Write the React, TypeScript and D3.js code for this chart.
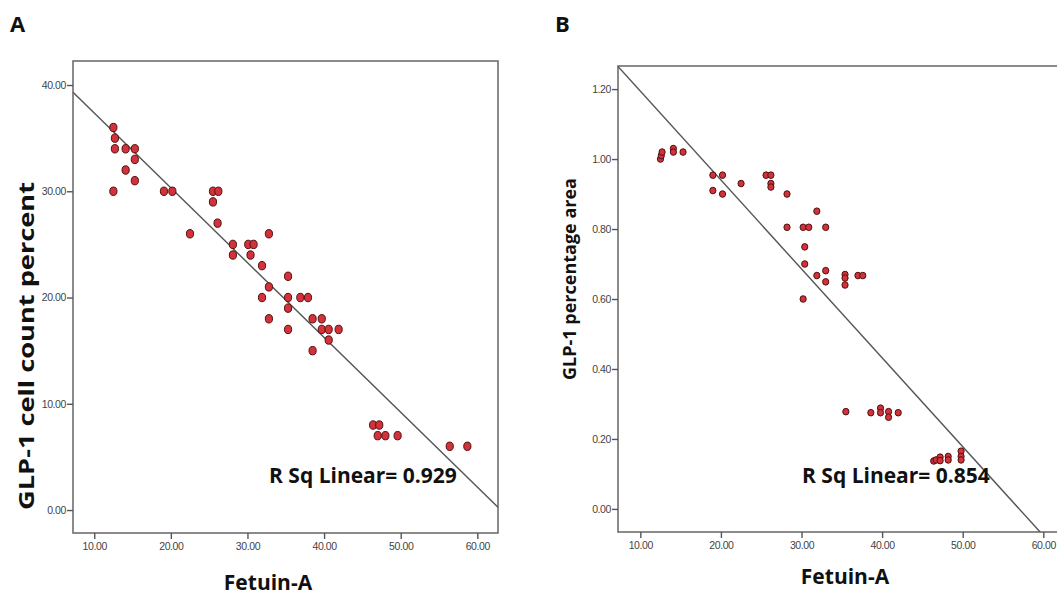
import React, { useEffect, useRef } from 'react';
import * as d3 from 'd3';

// Panel A: Fetuin-A vs GLP-1 cell count percent
const fetuinA = [12.5, 12.7, 12.7, 12.5, 14.1, 14.1, 15.3, 15.3, 15.3, 19.1, 20.2, 22.5, 25.5, 26.2, 25.5, 26.1, 28.1, 28.1, 30.1, 30.8, 30.4, 31.9, 32.8, 32.8, 31.9, 32.8, 35.3, 35.3, 35.3, 36.9, 37.9, 35.3, 38.5, 39.7, 39.7, 40.6, 41.9, 40.6, 38.5, 46.4, 47.2, 47.0, 48.0, 49.6, 56.4, 58.7];
const cellCount = [36, 35, 34, 30, 34, 32, 34, 33, 31, 30, 30, 26, 30, 30, 29, 27, 25, 24, 25, 25, 24, 23, 26, 21, 20, 18, 22, 20, 19, 20, 20, 17, 18, 18, 17, 17, 17, 16, 15, 8, 8, 7, 7, 7, 6, 6];

// Panel B: Fetuin-A vs GLP-1 percentage area
const fetuinB = [12.5, 12.6, 12.7, 14.1, 14.1, 15.3, 19.0, 20.2, 19.0, 20.2, 22.5, 25.6, 26.2, 26.2, 26.2, 28.2, 28.2, 31.9, 30.2, 30.9, 33.0, 30.4, 30.4, 31.9, 33.0, 33.0, 35.4, 35.4, 35.4, 37.0, 37.6, 30.2, 35.5, 38.6, 39.8, 39.8, 40.8, 40.8, 42.0, 46.4, 46.7, 47.2, 47.2, 48.2, 48.2, 49.8, 49.8, 49.8];
const pctArea = [1.0, 1.01, 1.02, 1.03, 1.02, 1.02, 0.954, 0.954, 0.91, 0.9, 0.93, 0.954, 0.954, 0.93, 0.92, 0.9, 0.805, 0.851, 0.805, 0.805, 0.805, 0.749, 0.7, 0.667, 0.681, 0.649, 0.67, 0.66, 0.64, 0.667, 0.667, 0.6, 0.278, 0.275, 0.288, 0.275, 0.278, 0.262, 0.275, 0.137, 0.14, 0.148, 0.138, 0.15, 0.14, 0.165, 0.15, 0.14];

// fit lines as printed (intercept, slope)
const fitA = [44.4, -0.704];
const fitB = [1.448, -0.0254];

const xTicks = [10, 20, 30, 40, 50, 60];
const yTicksA = [0, 10, 20, 30, 40];
const yTicksB = [0, 0.2, 0.4, 0.6, 0.8, 1.0, 1.2];

const labelFont = '"Open Sans", "DejaVu Sans", sans-serif';
const tickFont = '"Liberation Sans Narrow", "Arial Narrow", "Liberation Sans", sans-serif';

const App = () => {
  const ref = useRef(null);

  useEffect(() => {
    const svg = d3.select(ref.current);
    svg.selectAll('*').remove();

    const drawPanel = (opts) => {
      const { id, x, y, xs, ys, fit, yTicks, rx, ry } = opts;
      const g = svg.append('g');
      const [x0, x1] = x.range();
      const [y0, y1] = y.range();

      g.append('clipPath').attr('id', id)
        .append('rect')
        .attr('x', x0).attr('y', y1)
        .attr('width', x1 - x0).attr('height', y0 - y1);

      // frame
      g.append('rect')
        .attr('x', x0).attr('y', y1)
        .attr('width', x1 - x0).attr('height', y0 - y1)
        .attr('fill', 'white')
        .attr('stroke', '#6e6e6e')
        .attr('stroke-width', 1.6);

      // axes
      const ax = g.append('g')
        .attr('transform', `translate(0,${y0})`)
        .call(d3.axisBottom(x).tickValues(xTicks).tickSize(6).tickPadding(4).tickFormat(d3.format('.2f')));
      const ay = g.append('g')
        .attr('transform', `translate(${x0},0)`)
        .call(d3.axisLeft(y).tickValues(yTicks).tickSize(6).tickPadding(1).tickFormat(d3.format('.2f')));
      [ax, ay].forEach(a => {
        a.select('.domain').remove();
        a.selectAll('line').attr('stroke', '#555').attr('stroke-width', 1.4);
        a.selectAll('text')
          .style('font-family', tickFont)
          .style('font-size', '10.5px')
          .style('letter-spacing', '-0.4px')
          .attr('fill', '#444');
      });

      // fit line
      const xd = x.domain();
      g.append('line')
        .attr('clip-path', `url(#${id})`)
        .attr('x1', x(xd[0])).attr('y1', y(fit[0] + fit[1] * xd[0]))
        .attr('x2', x(xd[1])).attr('y2', y(fit[0] + fit[1] * xd[1]))
        .attr('stroke', '#555')
        .attr('stroke-width', 1.4);

      // points
      g.selectAll('.pt')
        .data(xs.map((v, i) => [v, ys[i]]))
        .enter()
        .append('ellipse')
        .attr('cx', d => x(d[0]))
        .attr('cy', d => y(d[1]))
        .attr('rx', rx)
        .attr('ry', ry)
        .attr('fill', '#d3323b')
        .attr('stroke', '#4e1010')
        .attr('stroke-width', 1);
      return g;
    };

    const xA = d3.scaleLinear().domain([7.23, 62.7]).range([73, 498]);
    const yA = d3.scaleLinear().domain([-2.16, 42.26]).range([533, 61]);
    drawPanel({ id: 'clipA', x: xA, y: yA, xs: fetuinA, ys: cellCount, fit: fitA, yTicks: yTicksA, rx: 3.6, ry: 4.2 });

    const xB = d3.scaleLinear().domain([7.23, 62.32]).range([618, 1062]);
    const yB = d3.scaleLinear().domain([-0.066, 1.266]).range([532, 66]);
    drawPanel({ id: 'clipB', x: xB, y: yB, xs: fetuinB, ys: pctArea, fit: fitB, yTicks: yTicksB, rx: 3.1, ry: 3.3 });

    const text = (t, px, py, size, anchor = 'start', rot = 0, len = 0) => {
      const el = svg.append('text')
        .attr('transform', `translate(${px},${py}) rotate(${rot})`)
        .attr('text-anchor', anchor)
        .style('font-family', labelFont)
        .style('font-weight', 'bold')
        .style('font-size', `${size}px`)
        .attr('fill', '#111')
        .text(t);
      if (len) el.attr('textLength', len).attr('lengthAdjust', 'spacingAndGlyphs');
    };

    text('A', 10, 32, 22);
    text('B', 555, 32, 22);
    text('R Sq Linear= 0.929', 269, 483, 21);
    text('R Sq Linear= 0.854', 802, 483, 21);
    text('Fetuin-A', 268, 590, 21, 'middle');
    text('Fetuin-A', 845, 584, 21, 'middle');
    text('GLP-1 cell count percent', 34, 346, 22, 'middle', -90, 328);
    text('GLP-1 percentage area', 576, 279, 18, 'middle', -90);
  }, []);

  return (
    <svg
      ref={ref}
      width={1057}
      height={597}
      style={{ position: 'absolute', left: 0, top: 0, background: 'white' }}
    />
  );
};

export default App;
